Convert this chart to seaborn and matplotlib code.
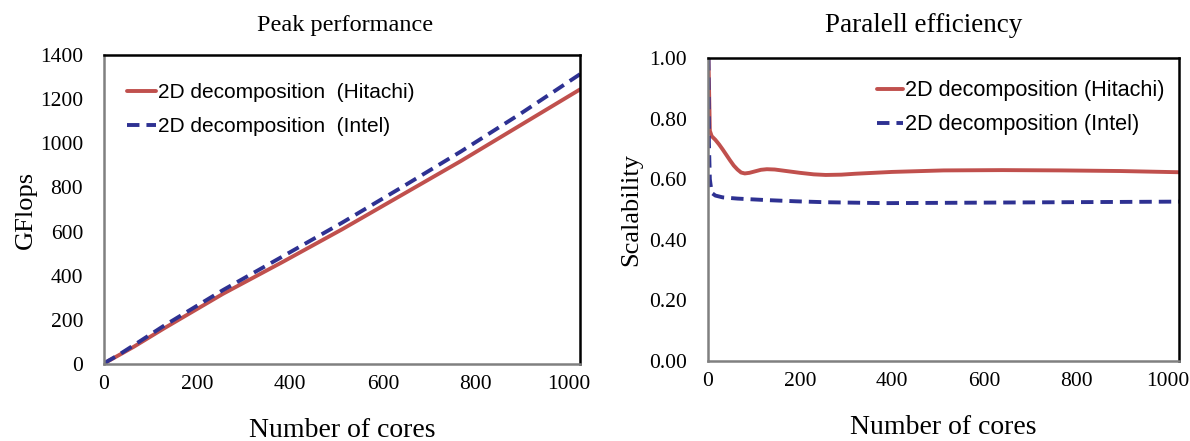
import matplotlib
matplotlib.use("Agg")
import matplotlib.pyplot as plt
import seaborn as sns
import pandas as pd

# Peak performance (GFlops) versus number of cores
perf_cores = [1, 8, 32, 64, 128, 256, 384, 512, 640, 768, 896, 1024]
perf_hitachi = [2, 12, 40, 78, 160, 318, 462, 610, 765, 920, 1082, 1244]
perf_intel = [2.4, 13, 42, 85, 172, 335, 487, 640, 800, 963, 1134, 1313]

# Parallel efficiency (scalability) versus number of cores
eff_cores_hitachi = [1, 4, 8, 16, 24, 32, 40, 48, 56, 64, 72, 80, 90, 100,
                     115, 128, 145, 160, 200, 230, 256, 290, 320, 400, 512,
                     640, 768, 896, 1024]
eff_hitachi = [1.00, 0.76, 0.742, 0.73, 0.715, 0.698, 0.680, 0.662, 0.645,
               0.632, 0.622, 0.619, 0.621, 0.625, 0.631, 0.633, 0.632, 0.629,
               0.621, 0.616, 0.614, 0.615, 0.618, 0.624, 0.629, 0.630, 0.629,
               0.627, 0.623]
eff_cores_intel = [1, 2, 4, 8, 16, 32, 64, 128, 192, 256, 384, 512, 640,
                   768, 896, 1024]
eff_intel = [1.00, 0.72, 0.60, 0.555, 0.546, 0.540, 0.536, 0.531, 0.527,
             0.524, 0.521, 0.522, 0.523, 0.524, 0.525, 0.526]

label_hitachi_l = "2D decomposition  (Hitachi)"
label_intel_l = "2D decomposition  (Intel)"
label_hitachi_r = "2D decomposition (Hitachi)"
label_intel_r = "2D decomposition (Intel)"

sns.set_theme(style="white")
plt.rcParams["font.family"] = ["Liberation Serif", "DejaVu Serif"]
plt.rcParams["text.color"] = "black"
plt.rcParams["axes.labelcolor"] = "black"

RED = "#C0504D"
BLUE = "#2E3192"
GRAY = "#808080"
LW = 2.8
DASH = (0, (3.2, 1.8))

fig = plt.figure(figsize=(11.9, 4.41), dpi=100)
ax1 = fig.add_axes([104 / 1190, 1 - 364 / 441, 476 / 1190, 309 / 441])
ax2 = fig.add_axes([708 / 1190, 1 - 361 / 441, 471 / 1190, 303 / 441])

perf_df = pd.DataFrame({"cores": perf_cores, "hitachi": perf_hitachi,
                        "intel": perf_intel})
sns.lineplot(data=perf_df, x="cores", y="hitachi", ax=ax1, color=RED,
             linewidth=LW, label=label_hitachi_l)
sns.lineplot(data=perf_df, x="cores", y="intel", ax=ax1, color=BLUE,
             linewidth=LW, linestyle=DASH, label=label_intel_l)

eff_h_df = pd.DataFrame({"cores": eff_cores_hitachi, "eff": eff_hitachi})
eff_i_df = pd.DataFrame({"cores": eff_cores_intel, "eff": eff_intel})
sns.lineplot(data=eff_h_df, x="cores", y="eff", ax=ax2, color=RED,
             linewidth=LW, label=label_hitachi_r)
sns.lineplot(data=eff_i_df, x="cores", y="eff", ax=ax2, color=BLUE,
             linewidth=LW, linestyle=DASH, label=label_intel_r)


def style_axes(ax):
    ax.set_xlim(0, 1024)
    ax.set_xticks([0, 200, 400, 600, 800, 1000])
    for side in ("left", "bottom"):
        ax.spines[side].set_color(GRAY)
        ax.spines[side].set_linewidth(1.8)
    for side in ("top", "right"):
        ax.spines[side].set_color("black")
        ax.spines[side].set_linewidth(1.8)
    ax.tick_params(axis="x", direction="in", length=5, width=1.3,
                   colors=GRAY, labelcolor="black", labelsize=15.5, pad=8)
    ax.tick_params(axis="y", direction="out", length=5, width=1.3,
                   colors=GRAY, labelcolor="black", labelsize=15.5, pad=10)
    ax.set_xlabel("Number of cores", fontsize=20, labelpad=17, color="black")
    ax.grid(False)


style_axes(ax1)
ax1.set_ylim(0, 1400)
ax1.set_yticks(range(0, 1401, 200))
ax1.set_ylabel("GFlops", fontsize=19, labelpad=2, color="black")

style_axes(ax2)
ax2.set_ylim(0, 1.0)
ax2.set_yticks([0, 0.2, 0.4, 0.6, 0.8, 1.0])
ax2.set_yticklabels([f"{v:.2f}" for v in [0, 0.2, 0.4, 0.6, 0.8, 1.0]])
ax2.set_ylabel("Scalability", fontsize=19, labelpad=5, color="black")

fig.text(345 / 1190, 1 - 25 / 441, "Peak performance", ha="center",
         va="center", fontsize=17.5, color="black")
fig.text(924 / 1190, 1 - 25 / 441, "Paralell efficiency", ha="center",
         va="center", fontsize=19.5, color="black")

leg1 = ax1.legend(loc="upper left", bbox_to_anchor=(0.03, 0.935), frameon=False,
                  handlelength=1.4, handletextpad=0.1, labelspacing=0.7,
                  borderaxespad=0.0,
                  prop={"family": "Liberation Sans", "size": 15})
leg2 = ax2.legend(loc="upper left", bbox_to_anchor=(0.34, 0.955), frameon=False,
                  handlelength=1.2, handletextpad=0.1, labelspacing=0.6,
                  borderaxespad=0.0,
                  prop={"family": "Liberation Sans", "size": 15.6})
for leg in (leg1, leg2):
    for t in leg.get_texts():
        t.set_color("black")

fig.savefig("out.png", dpi=100, facecolor="white")
